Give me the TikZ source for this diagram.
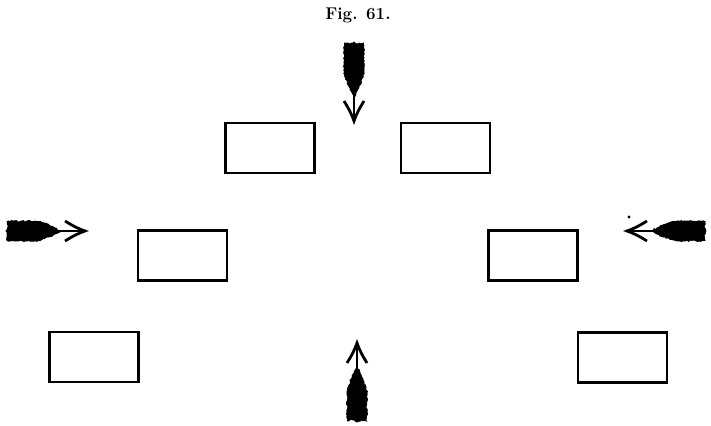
\documentclass[tikz,border=0pt]{standalone}
\usetikzlibrary{decorations.pathmorphing}
\begin{document}
\begin{tikzpicture}[x=1pt,y=-1pt,
  box/.style={draw,line width=2.2pt,minimum width=89pt,minimum height=50pt,inner sep=0pt,outer sep=0pt},
  title/.style={font=\fontsize{17}{19}\selectfont\bfseries},
  feather/.style={fill=black,draw=black,line width=0.8pt,decorate,decoration={random steps,segment length=1.5pt,amplitude=0.8pt}},
  shaft/.style={line width=2pt},
  head/.style={line width=2.8pt,line join=miter,line cap=butt}]
\useasboundingbox (0,0) rectangle (711,425);
\pgfmathsetseed{61}
\node[title] (fig) at (358,15) {Fig. 61.};
\node[box] (tl) at (270,148) {};
\node[box] (tr) at (445.5,148) {};
\node[box] (ml) at (182.5,255.5) {};
\node[box] (mr) at (533,255.5) {};
\node[box] (bl) at (94,357) {};
\node[box] (br) at (622.5,357.5) {};
\newcommand{\featherarrow}[1]{%
  \begin{scope}[#1]
    \path[feather] (0,-24) -- (-3,-30) -- (-6,-36) -- (-8.5,-43) -- (-10,-50) -- (-10,-58) -- (-9.5,-65) -- (-10,-72) -- (-9.5,-78) -- (-4,-77) -- (0,-79) -- (4,-77) -- (9.5,-78) -- (10,-72) -- (9.5,-65) -- (10,-58) -- (10,-50) -- (8.5,-43) -- (6,-36) -- (3,-30) -- cycle;
    \draw[shaft] (0,-3) -- (0,-30);
    \draw[head] (-10,-20) .. controls (-5,-12) and (-2,-6) .. (0,0) .. controls (2,-6) and (5,-12) .. (10,-20);
  \end{scope}}
\coordinate (ta) at (354,121);
\coordinate (la) at (85,231);
\coordinate (ra) at (627,231);
\coordinate (ba) at (357,343);
\featherarrow{shift={(ta)}}
\featherarrow{shift={(la)},rotate=90}
\featherarrow{shift={(ra)},rotate=-90}
\featherarrow{shift={(ba)},rotate=180}
\fill (629,217) circle (1.6pt);
\end{tikzpicture}
\end{document}
